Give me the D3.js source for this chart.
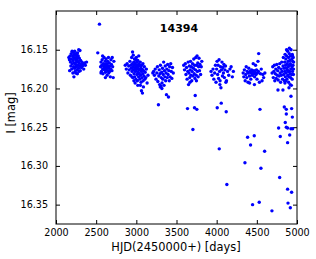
<!DOCTYPE html>
<html><head><meta charset="utf-8">
<script src="https://cdn.jsdelivr.net/npm/d3@7"></script>
<style>
html,body{margin:0;padding:0;background:#fff;}
svg text{font-family:"DejaVu Sans",sans-serif;}
</style></head>
<body>
<svg id="c" width="316" height="259"></svg>
<script>
const title = "14394";
const xLabel = "HJD(2450000+) [days]";
const yLabel = "I [mag]";
const xTicks = [2000,2500,3000,3500,4000,4500,5000];
const yTicks = [16.15,16.20,16.25,16.30,16.35];

const season1 = [[2160,16.160],[2168,16.163],[2175,16.158],[2180,16.166],[2185,16.171],[2190,16.155],[2192,16.162],[2196,16.175],[2200,16.152],[2203,16.168],[2207,16.158],[2210,16.180],[2212,16.164],[2215,16.153],[2218,16.172],[2220,16.160],[2223,16.185],[2226,16.156],[2228,16.167],[2231,16.174],[2233,16.152],[2236,16.161],[2238,16.178],[2241,16.157],[2244,16.169],[2246,16.163],[2249,16.155],[2252,16.172],[2255,16.166],[2258,16.159],[2260,16.176],[2263,16.162],[2266,16.181],[2268,16.154],[2271,16.170],[2274,16.165],[2277,16.158],[2280,16.174],[2283,16.150],[2286,16.167],[2290,16.161],[2294,16.171],[2298,16.151],[2302,16.177],[2306,16.164],[2310,16.169],[2316,16.173],[2322,16.166],[2330,16.171],[2338,16.168],[2345,16.175],[2355,16.167],[2365,16.170],[2380,16.166],[2170,16.177],[2245,16.180],[2262,16.157],[2286,16.178]];
const season2 = [[2520,16.154],[2541,16.117],[2555,16.172],[2560,16.166],[2565,16.178],[2570,16.170],[2575,16.163],[2580,16.175],[2585,16.181],[2590,16.168],[2594,16.172],[2598,16.160],[2602,16.176],[2606,16.169],[2610,16.174],[2613,16.165],[2616,16.179],[2620,16.171],[2623,16.162],[2626,16.176],[2630,16.168],[2633,16.173],[2636,16.183],[2640,16.170],[2643,16.165],[2646,16.177],[2650,16.172],[2653,16.160],[2656,16.180],[2660,16.174],[2664,16.167],[2668,16.178],[2672,16.171],[2676,16.185],[2680,16.175],[2684,16.163],[2690,16.169],[2696,16.177],[2700,16.160],[2705,16.172],[2712,16.186],[2720,16.165],[2560,16.180],[2580,16.158],[2615,16.186]];
const season3 = [[2862,16.170],[2875,16.175],[2885,16.168],[2895,16.180],[2905,16.171],[2912,16.176],[2920,16.165],[2926,16.183],[2932,16.170],[2938,16.174],[2942,16.160],[2946,16.178],[2950,16.168],[2953,16.153],[2956,16.186],[2959,16.172],[2962,16.157],[2965,16.176],[2968,16.166],[2971,16.181],[2974,16.170],[2977,16.162],[2980,16.185],[2983,16.174],[2986,16.168],[2989,16.178],[2992,16.163],[2995,16.188],[2998,16.172],[3001,16.176],[3004,16.166],[3007,16.182],[3010,16.170],[3013,16.190],[3016,16.174],[3019,16.164],[3022,16.179],[3025,16.171],[3028,16.185],[3031,16.168],[3034,16.176],[3037,16.181],[3040,16.170],[3043,16.188],[3046,16.175],[3049,16.166],[3052,16.183],[3055,16.172],[3058,16.192],[3061,16.178],[3064,16.203],[3067,16.170],[3070,16.186],[3073,16.175],[3076,16.206],[3079,16.181],[3082,16.168],[3085,16.190],[3090,16.177],[3095,16.184],[3100,16.172],[3105,16.188],[3110,16.179],[3118,16.186],[3125,16.175],[3134,16.193],[3145,16.183],[2985,16.193],[3000,16.160],[3018,16.196],[3030,16.158],[2970,16.190],[3050,16.196],[3088,16.198],[2945,16.185]];
const season4 = [[3205,16.180],[3215,16.178],[3225,16.183],[3235,16.175],[3245,16.188],[3255,16.180],[3262,16.172],[3268,16.191],[3275,16.221],[3280,16.184],[3285,16.176],[3290,16.195],[3295,16.181],[3300,16.170],[3305,16.197],[3310,16.186],[3315,16.179],[3320,16.193],[3325,16.174],[3330,16.188],[3335,16.182],[3340,16.166],[3345,16.196],[3350,16.177],[3355,16.185],[3360,16.171],[3365,16.190],[3370,16.180],[3375,16.208],[3380,16.175],[3385,16.186],[3390,16.169],[3395,16.182],[3400,16.211],[3405,16.177],[3410,16.190],[3415,16.172],[3420,16.185],[3428,16.168],[3435,16.178],[3442,16.187],[3450,16.173],[3460,16.180],[3298,16.198],[3318,16.200]];
const season5 = [[3590,16.170],[3600,16.176],[3610,16.168],[3618,16.182],[3625,16.173],[3632,16.188],[3637,16.226],[3640,16.178],[3645,16.166],[3650,16.195],[3655,16.180],[3660,16.171],[3665,16.186],[3670,16.176],[3675,16.165],[3680,16.183],[3685,16.172],[3690,16.190],[3695,16.178],[3700,16.168],[3704,16.253],[3706,16.184],[3710,16.174],[3715,16.162],[3720,16.181],[3724,16.225],[3726,16.170],[3730,16.187],[3733,16.209],[3736,16.176],[3740,16.160],[3745,16.183],[3750,16.170],[3753,16.227],[3756,16.158],[3760,16.178],[3765,16.167],[3770,16.185],[3775,16.172],[3780,16.161],[3786,16.177],[3792,16.169],[3800,16.182],[3808,16.172],[3815,16.165],[3668,16.192],[3748,16.190]];
const season6 = [[3930,16.178],[3942,16.183],[3955,16.175],[3965,16.188],[3975,16.180],[3985,16.170],[3992,16.192],[4000,16.175],[4005,16.165],[4007,16.225],[4012,16.182],[4018,16.170],[4024,16.187],[4030,16.163],[4032,16.278],[4036,16.178],[4042,16.190],[4048,16.172],[4053,16.199],[4057,16.219],[4060,16.176],[4066,16.166],[4072,16.184],[4078,16.173],[4084,16.180],[4090,16.169],[4096,16.186],[4102,16.176],[4110,16.171],[4119,16.230],[4122,16.190],[4127,16.324],[4135,16.178],[4150,16.183],[4165,16.175],[4180,16.172],[4195,16.185],[4208,16.178],[4040,16.195],[4115,16.192]];
const season7 = [[4330,16.180],[4338,16.185],[4345,16.176],[4352,16.296],[4355,16.190],[4362,16.182],[4368,16.172],[4375,16.186],[4380,16.178],[4385,16.263],[4390,16.192],[4395,16.180],[4400,16.174],[4408,16.184],[4415,16.178],[4422,16.273],[4425,16.188],[4430,16.180],[4436,16.176],[4442,16.183],[4447,16.350],[4450,16.178],[4455,16.168],[4460,16.181],[4465,16.177],[4468,16.261],[4472,16.185],[4478,16.179],[4484,16.170],[4490,16.182],[4496,16.176],[4502,16.188],[4508,16.180],[4514,16.165],[4520,16.178],[4523,16.155],[4530,16.347],[4532,16.192],[4539,16.227],[4545,16.181],[4551,16.303],[4555,16.175],[4565,16.190],[4575,16.182],[4585,16.186],[4597,16.281],[4600,16.180],[4410,16.193],[4470,16.195]];
const season8 = [[4688,16.358],[4690,16.180],[4698,16.172],[4705,16.186],[4712,16.178],[4718,16.170],[4724,16.190],[4730,16.181],[4736,16.175],[4742,16.187],[4748,16.169],[4754,16.183],[4760,16.177],[4763,16.202],[4766,16.189],[4771,16.251],[4772,16.173],[4778,16.184],[4784,16.315],[4785,16.168],[4790,16.180],[4792,16.262],[4796,16.192],[4800,16.175],[4805,16.183],[4810,16.166],[4815,16.178],[4820,16.188],[4825,16.202],[4826,16.171],[4830,16.160],[4834,16.182],[4838,16.174],[4842,16.224],[4843,16.190],[4846,16.166],[4849,16.178],[4852,16.156],[4854,16.244],[4855,16.185],[4858,16.170],[4861,16.162],[4864,16.180],[4867,16.227],[4867,16.250],[4867,16.233],[4868,16.174],[4871,16.158],[4874,16.188],[4877,16.168],[4880,16.176],[4883,16.251],[4883,16.270],[4883,16.330],[4884,16.152],[4886,16.183],[4888,16.348],[4889,16.165],[4892,16.172],[4895,16.160],[4898,16.185],[4900,16.199],[4901,16.170],[4904,16.155],[4907,16.178],[4909,16.260],[4910,16.164],[4913,16.181],[4916,16.168],[4917,16.354],[4919,16.158],[4922,16.175],[4925,16.210],[4925,16.252],[4926,16.150],[4929,16.170],[4932,16.182],[4933,16.226],[4933,16.334],[4935,16.162],[4938,16.172],[4941,16.156],[4942,16.237],[4944,16.178],[4946,16.252],[4947,16.165],[4950,16.170],[4953,16.160],[4956,16.175],[4958,16.166],[4860,16.190],[4895,16.192],[4915,16.195],[4940,16.188],[4870,16.150],[4905,16.148],[4930,16.196],[4850,16.193],[4890,16.178],[4920,16.186],[4945,16.158],[4955,16.182]];

const seasons = [season1,season2,season3,season4,season5,season6,season7,season8];
const points = seasons.flat();

const svg = d3.select("#c");
const L = 56, R = 297, T = 11, B = 224;
const x = d3.scaleLinear().domain([2000,5000]).range([L,R]);
const y = d3.scaleLinear().domain([16.10,16.375]).range([T,B]);

const tickLen = 4;
const gx = svg.append("g").attr("transform",`translate(0,${B})`)
  .call(d3.axisBottom(x).tickValues(xTicks).tickFormat(d3.format("d")).tickSizeInner(-tickLen).tickSizeOuter(0).tickPadding(5));
const gxt = svg.append("g").attr("transform",`translate(0,${T})`)
  .call(d3.axisTop(x).tickValues(xTicks).tickFormat("").tickSizeInner(-tickLen).tickSizeOuter(0));
const gy = svg.append("g").attr("transform",`translate(${L},0)`)
  .call(d3.axisLeft(y).tickValues(yTicks).tickFormat(d3.format(".2f")).tickSizeInner(-tickLen).tickSizeOuter(0).tickPadding(8));
const gyr = svg.append("g").attr("transform",`translate(${R},0)`)
  .call(d3.axisRight(y).tickValues(yTicks).tickFormat("").tickSizeInner(-tickLen).tickSizeOuter(0));

[gx,gxt,gy,gyr].forEach(g=>{
  g.select(".domain").remove();
  g.selectAll("line").attr("stroke","#000").attr("stroke-width",1);
  g.selectAll("text").attr("fill","#000").style("font-size","9.6px").style("font-family",'"DejaVu Sans",sans-serif');
});

svg.append("g").selectAll("circle").data(points).join("circle")
  .attr("cx",d=>x(d[0])).attr("cy",d=>y(d[1])).attr("r",1.7)
  .attr("fill","#0000ff");

svg.append("rect").attr("x",L).attr("y",T).attr("width",R-L).attr("height",B-T)
  .attr("fill","none").attr("stroke","#000").attr("stroke-width",1);

svg.append("text").attr("x",179).attr("y",32).attr("text-anchor","middle")
  .style("font-size","11px").style("font-weight","bold").text(title);
svg.append("text").attr("x",176).attr("y",251).attr("text-anchor","middle")
  .style("font-size","11.4px").text(xLabel);
svg.append("text").attr("transform",`translate(15,113) rotate(-90)`).attr("text-anchor","middle")
  .style("font-size","11.4px").text(yLabel);
</script>
</body></html>
